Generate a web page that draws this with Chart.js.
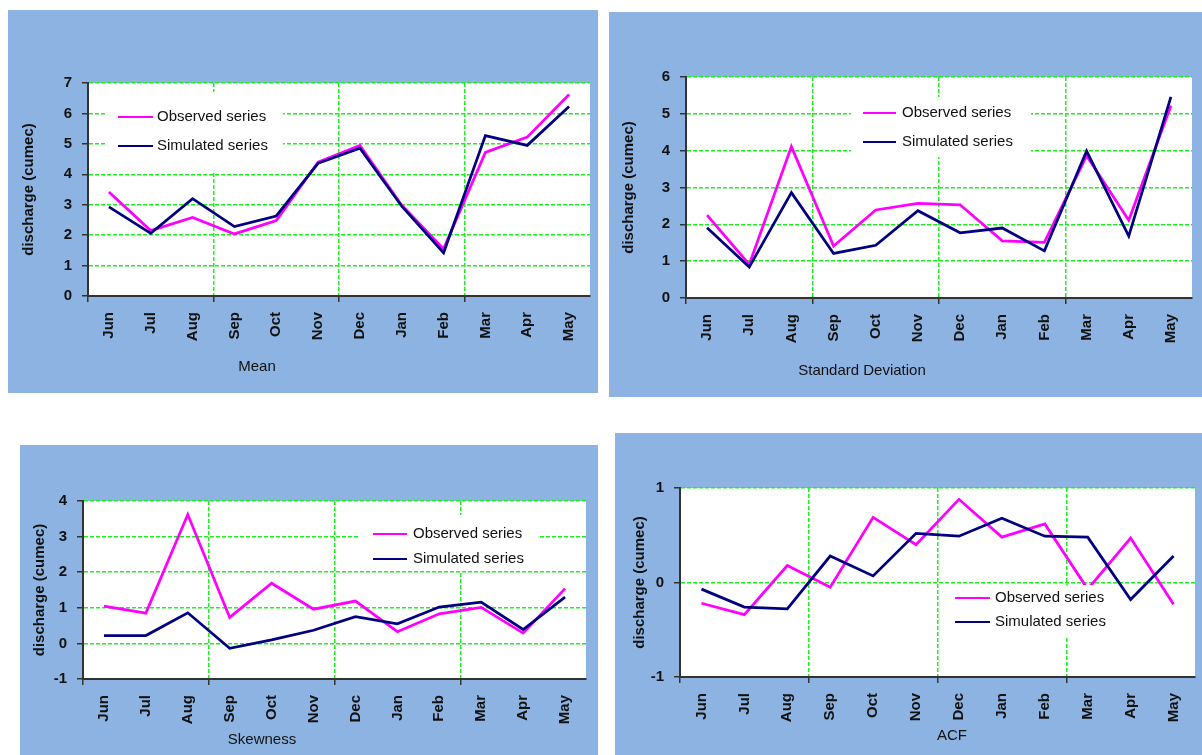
<!DOCTYPE html>
<html>
<head>
<meta charset="utf-8">
<title>Monthly statistics: observed vs simulated discharge</title>
<script src="https://cdn.jsdelivr.net/npm/chart.js@4.4.1/dist/chart.umd.min.js"></script>
<style>
  html, body { margin: 0; padding: 0; background: #ffffff; }
  body { width: 1202px; height: 755px; position: relative; overflow: hidden; }
  .panel { position: absolute; background: #8DB3E2; }
  .panel canvas { display: block; }
</style>
</head>
<body>
<div class="panel" style="left:8px;top:10px;width:590px;height:383px"><canvas id="c-mean" width="590" height="383"></canvas></div>
<div class="panel" style="left:609px;top:12px;width:593px;height:385px"><canvas id="c-sd" width="593" height="385"></canvas></div>
<div class="panel" style="left:20px;top:445px;width:578px;height:310px"><canvas id="c-skew" width="578" height="310"></canvas></div>
<div class="panel" style="left:615px;top:433px;width:587px;height:322px"><canvas id="c-acf" width="587" height="322"></canvas></div>

<script>
// Months of the water year
const months = ['Jun', 'Jul', 'Aug', 'Sep', 'Oct', 'Nov', 'Dec', 'Jan', 'Feb', 'Mar', 'Apr', 'May'];

// Monthly mean (cumec)
const meanObserved  = [3.42, 2.15, 2.58, 2.04, 2.48, 4.40, 4.95, 2.98, 1.55, 4.72, 5.22, 6.62];
const meanSimulated = [2.93, 2.06, 3.20, 2.28, 2.63, 4.36, 4.86, 2.95, 1.42, 5.27, 4.95, 6.23];

// Monthly standard deviation (cumec)
const sdObserved  = [2.25, 0.91, 4.11, 1.41, 2.39, 2.57, 2.53, 1.55, 1.51, 3.86, 2.11, 5.22];
const sdSimulated = [1.91, 0.84, 2.86, 1.21, 1.43, 2.37, 1.77, 1.90, 1.28, 3.99, 1.68, 5.46];

// Monthly skewness
const skewObserved  = [1.05, 0.85, 3.62, 0.73, 1.69, 0.96, 1.19, 0.33, 0.83, 1.01, 0.29, 1.54];
const skewSimulated = [0.22, 0.22, 0.86, -0.14, 0.10, 0.37, 0.75, 0.55, 1.02, 1.16, 0.39, 1.30];

// Lag-one autocorrelation
const acfObserved  = [-0.22, -0.34, 0.18, -0.05, 0.69, 0.40, 0.88, 0.48, 0.62, -0.07, 0.47, -0.23];
const acfSimulated = [-0.07, -0.26, -0.28, 0.28, 0.07, 0.52, 0.49, 0.68, 0.49, 0.48, -0.18, 0.28];

const seriesLabels = ['Observed series', 'Simulated series'];
const yTitle = 'discharge (cumec)';

const FONT = '"Liberation Sans", Arial, Helvetica, sans-serif';
const INK = '#111111';
const GRID = '#1ef01e';
const AXIS = '#333333';
const OBS_COLOR = '#FF00FF';
const SIM_COLOR = '#000080';

// White plotting area on the blue panel
const plotBackground = {
  id: 'plotBackground',
  beforeDraw(chart) {
    const { ctx, chartArea: a } = chart;
    ctx.save();
    ctx.fillStyle = '#ffffff';
    ctx.fillRect(a.left, a.top, a.width, a.height);
    ctx.restore();
  }
};

// Boxed legend placed inside the plotting area
const boxLegend = {
  id: 'boxLegend',
  afterDatasetsDraw(chart, args, o) {
    const { ctx, chartArea: a } = chart;
    const x0 = a.left + o.left, y0 = a.top + o.top;
    ctx.save();
    ctx.fillStyle = '#ffffff';
    ctx.fillRect(x0, y0, o.width, o.height);
    ctx.font = o.size + 'px ' + FONT;
    ctx.textAlign = 'left';
    ctx.textBaseline = 'middle';
    chart.data.datasets.forEach((ds, i) => {
      const y = y0 + o.rows[i];
      ctx.strokeStyle = ds.borderColor;
      ctx.lineWidth = 2;
      ctx.beginPath();
      ctx.moveTo(x0 + o.sample[0], y);
      ctx.lineTo(x0 + o.sample[1], y);
      ctx.stroke();
      ctx.fillStyle = INK;
      ctx.fillText(ds.label, x0 + o.textX, y);
    });
    ctx.restore();
  }
};

// Caption under the month labels
const caption = {
  id: 'caption',
  afterDraw(chart, args, o) {
    const ctx = chart.ctx;
    ctx.save();
    ctx.font = o.size + 'px ' + FONT;
    ctx.fillStyle = INK;
    ctx.textAlign = 'center';
    ctx.textBaseline = 'middle';
    ctx.fillText(o.text, o.x, o.y);
    ctx.restore();
  }
};

function makeChart(id, cfg) {
  const everyThird = (on, off) => (c) => (c.index % 3 === 0 ? on : off);
  return new Chart(document.getElementById(id), {
    type: 'line',
    data: {
      labels: months,
      datasets: [
        { label: seriesLabels[0], data: cfg.observed, borderColor: OBS_COLOR, borderWidth: 2.75,
          pointRadius: 0, tension: 0, fill: false, order: 1 },
        { label: seriesLabels[1], data: cfg.simulated, borderColor: SIM_COLOR, borderWidth: 2.75,
          pointRadius: 0, tension: 0, fill: false, order: 0 }
      ]
    },
    options: {
      responsive: false,
      animation: false,
      devicePixelRatio: 1,
      layout: { padding: { left: 0, top: cfg.padTop, right: cfg.padRight, bottom: 0 } },
      plugins: {
        legend: { display: false },
        tooltip: { enabled: false },
        boxLegend: cfg.legend,
        caption: cfg.caption
      },
      scales: {
        x: {
          type: 'category',
          offset: true,
          afterFit: (s) => { s.height = cfg.xHeight; },
          grid: {
            offset: true,
            drawOnChartArea: true,
            color: everyThird(GRID, 'rgba(0,0,0,0)'),
            lineWidth: 1.5,
            tickColor: everyThird(AXIS, 'rgba(0,0,0,0)'),
            tickLength: 6,
            tickWidth: 1.5,
            tickBorderDash: []
          },
          // dash applies to the grid lines; the axis line itself stays solid
          border: { display: true, color: AXIS, width: 2, dash: [4, 2] },
          ticks: {
            autoSkip: false,
            minRotation: 90,
            maxRotation: 90,
            padding: 10,
            color: INK,
            font: { family: FONT, size: cfg.tickSize, weight: 'bold' }
          }
        },
        y: {
          min: cfg.min,
          max: cfg.max,
          afterFit: (s) => { s.width = cfg.yWidth; },
          grid: {
            color: GRID,
            lineWidth: 1.5,
            tickColor: AXIS,
            tickLength: 6,
            tickWidth: 1.5,
            tickBorderDash: []
          },
          border: { display: true, color: AXIS, width: 2, dash: [4, 2] },
          ticks: {
            stepSize: 1,
            padding: 10,
            color: INK,
            font: { family: FONT, size: cfg.tickSize, weight: 'bold' }
          },
          title: {
            display: true,
            text: yTitle,
            color: INK,
            font: { family: FONT, size: cfg.tickSize, weight: 'bold', lineHeight: 1.2 },
            padding: { top: cfg.yTitlePad, bottom: 0 }
          }
        }
      }
    },
    plugins: [plotBackground, boxLegend, caption]
  });
}

makeChart('c-mean', {
  observed: meanObserved, simulated: meanSimulated,
  min: 0, max: 7,
  padTop: 73, padRight: 8, yWidth: 80, xHeight: 97, yTitlePad: 12, tickSize: 15,
  legend: { left: 17, top: 9, width: 178, height: 80, rows: [25, 54], sample: [13, 48], textX: 52, size: 15 },
  caption: { text: 'Mean', x: 249, y: 357, size: 15 }
});

makeChart('c-sd', {
  observed: sdObserved, simulated: sdSimulated,
  min: 0, max: 6,
  padTop: 65, padRight: 10, yWidth: 77, xHeight: 99, yTitlePad: 11, tickSize: 15,
  legend: { left: 165, top: 20, width: 180, height: 60, rows: [16, 45], sample: [12, 45], textX: 51, size: 15 },
  caption: { text: 'Standard Deviation', x: 253, y: 359, size: 15 }
});

makeChart('c-skew', {
  observed: skewObserved, simulated: skewSimulated,
  min: -1, max: 4,
  padTop: 56, padRight: 12, yWidth: 63, xHeight: 76, yTitlePad: 11, tickSize: 15,
  legend: { left: 277, top: 14, width: 178, height: 56, rows: [19, 44], sample: [13, 47], textX: 53, size: 15 },
  caption: { text: 'Skewness', x: 242, y: 295, size: 15 }
});

makeChart('c-acf', {
  observed: acfObserved, simulated: acfSimulated,
  min: -1, max: 1,
  padTop: 55, padRight: 7, yWidth: 65, xHeight: 78, yTitlePad: 16, tickSize: 15,
  legend: { left: 265, top: 97, width: 172, height: 52, rows: [13, 37], sample: [10, 45], textX: 50, size: 15 },
  caption: { text: 'ACF', x: 337, y: 303, size: 15 }
});
</script>
</body>
</html>
